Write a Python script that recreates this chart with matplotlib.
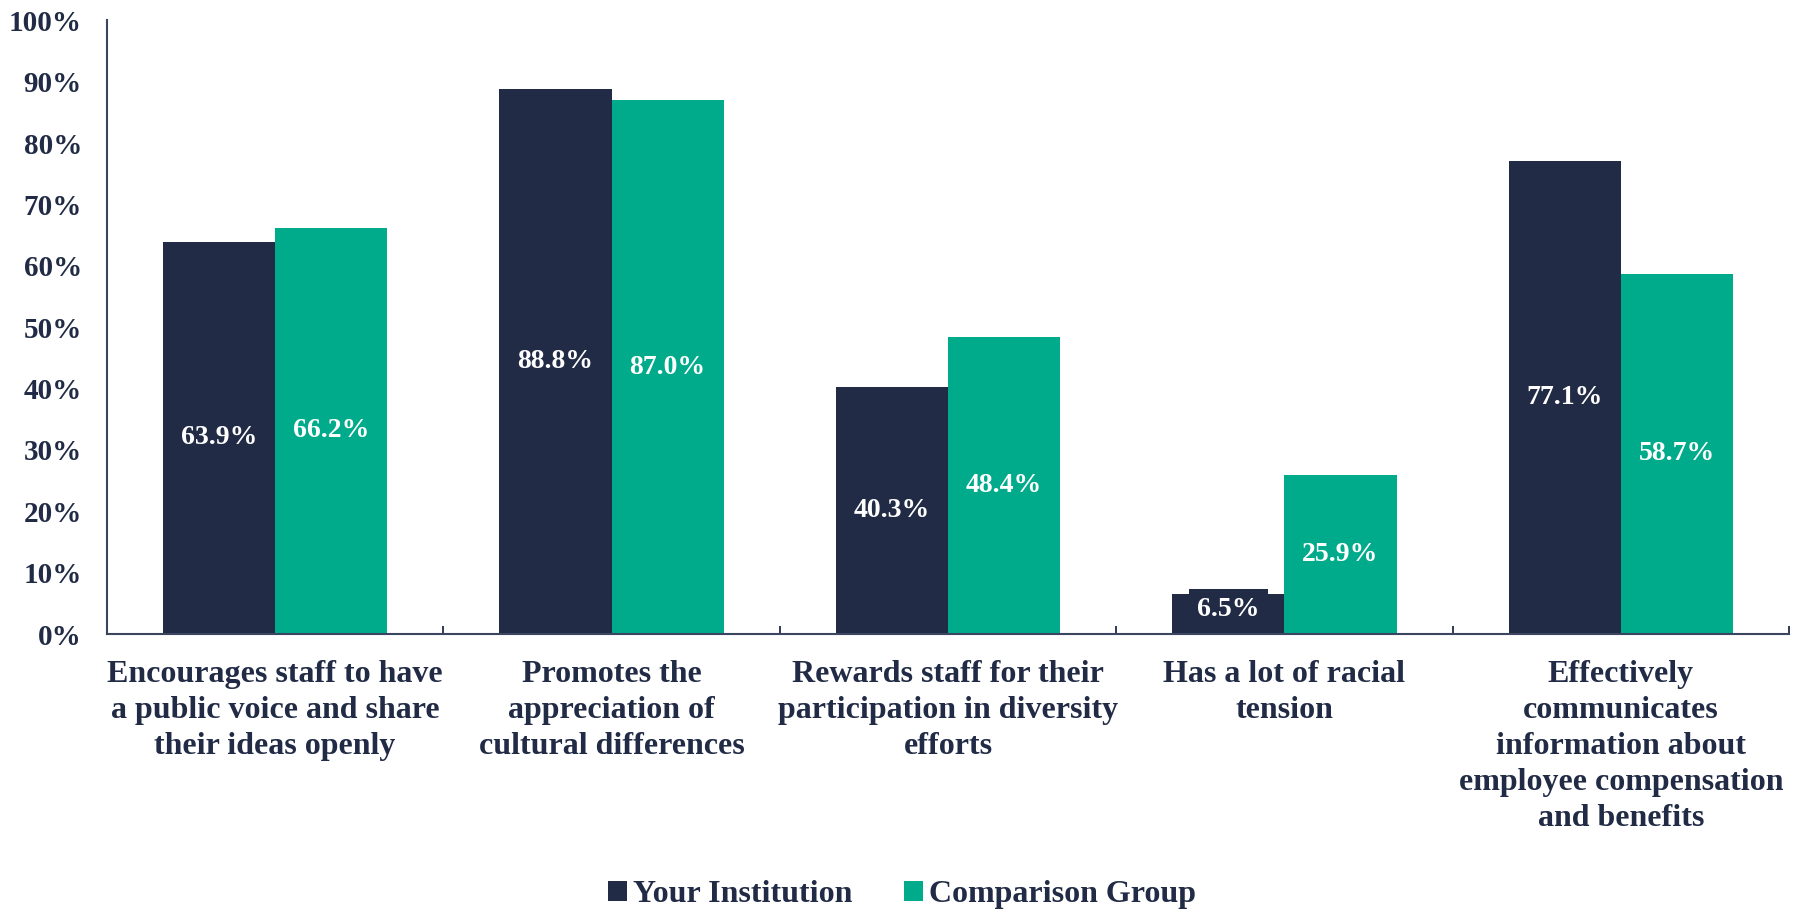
import matplotlib.pyplot as plt
import numpy as np
from matplotlib.ticker import PercentFormatter

categories = [
    "Encourages staff to have\na public voice and share\ntheir ideas openly",
    "Promotes the\nappreciation of\ncultural differences",
    "Rewards staff for their\nparticipation in diversity\nefforts",
    "Has a lot of racial\ntension",
    "Effectively\ncommunicates\ninformation about\nemployee compensation\nand benefits",
]
your_institution = [63.9, 88.8, 40.3, 6.5, 77.1]
comparison_group = [66.2, 87.0, 48.4, 25.9, 58.7]
series_names = ["Your Institution", "Comparison Group"]

NAVY = "#212B45"
TEAL = "#00AB8C"

plt.rcParams["font.family"] = ["Liberation Serif", "DejaVu Serif"]
plt.rcParams["font.weight"] = "bold"

fig = plt.figure(figsize=(18.04, 9.09), dpi=100)
ax = fig.add_axes([0.0593, 0.3025, 0.9324, 0.675])

x = np.arange(len(categories))
w = 1 / 3
for vals, col, name, off in [
    (your_institution, NAVY, series_names[0], -w / 2),
    (comparison_group, TEAL, series_names[1], w / 2),
]:
    bars = ax.bar(x + off, vals, w, color=col, label=name)
    for b, v in zip(bars, vals):
        # label sits in the middle of the bar, on a box of the bar colour
        ax.text(b.get_x() + b.get_width() / 2, max(v / 2, 4.0), f"{v:.1f}%",
                ha="center", va="center", color="white", fontsize=20,
                fontweight="bold",
                bbox=dict(boxstyle="square,pad=0.3", fc=col, ec="none"))

ax.set_xlim(-0.5, len(categories) - 0.5)
ax.set_ylim(0, 100)
ax.set_yticks(range(0, 101, 10))
ax.yaxis.set_major_formatter(PercentFormatter(decimals=0))
ax.tick_params(axis="y", length=0, labelsize=21, colors=NAVY, pad=18)

ax.set_xticks(np.arange(-0.5, len(categories)), minor=False)
ax.set_xticklabels([])
ax.set_xticks(x, minor=True)
ax.set_xticklabels(categories, minor=True, fontsize=23, color=NAVY,
                   linespacing=1.31, va="top")
ax.tick_params(axis="x", which="major", direction="in", length=6,
               color=NAVY, width=1.3)
ax.tick_params(axis="x", which="minor", length=0, pad=19)

for s in ["top", "right"]:
    ax.spines[s].set_visible(False)
for s in ["left", "bottom"]:
    ax.spines[s].set_color("#3B4560")
    ax.spines[s].set_linewidth(1.5)

fig.legend(loc="lower center", bbox_to_anchor=(0.5, -0.032), ncol=2,
           frameon=False, fontsize=23, handlelength=0.6, handleheight=0.6,
           handletextpad=0.2, columnspacing=1.6, labelcolor=NAVY)

fig.savefig("out.png", dpi=100)
